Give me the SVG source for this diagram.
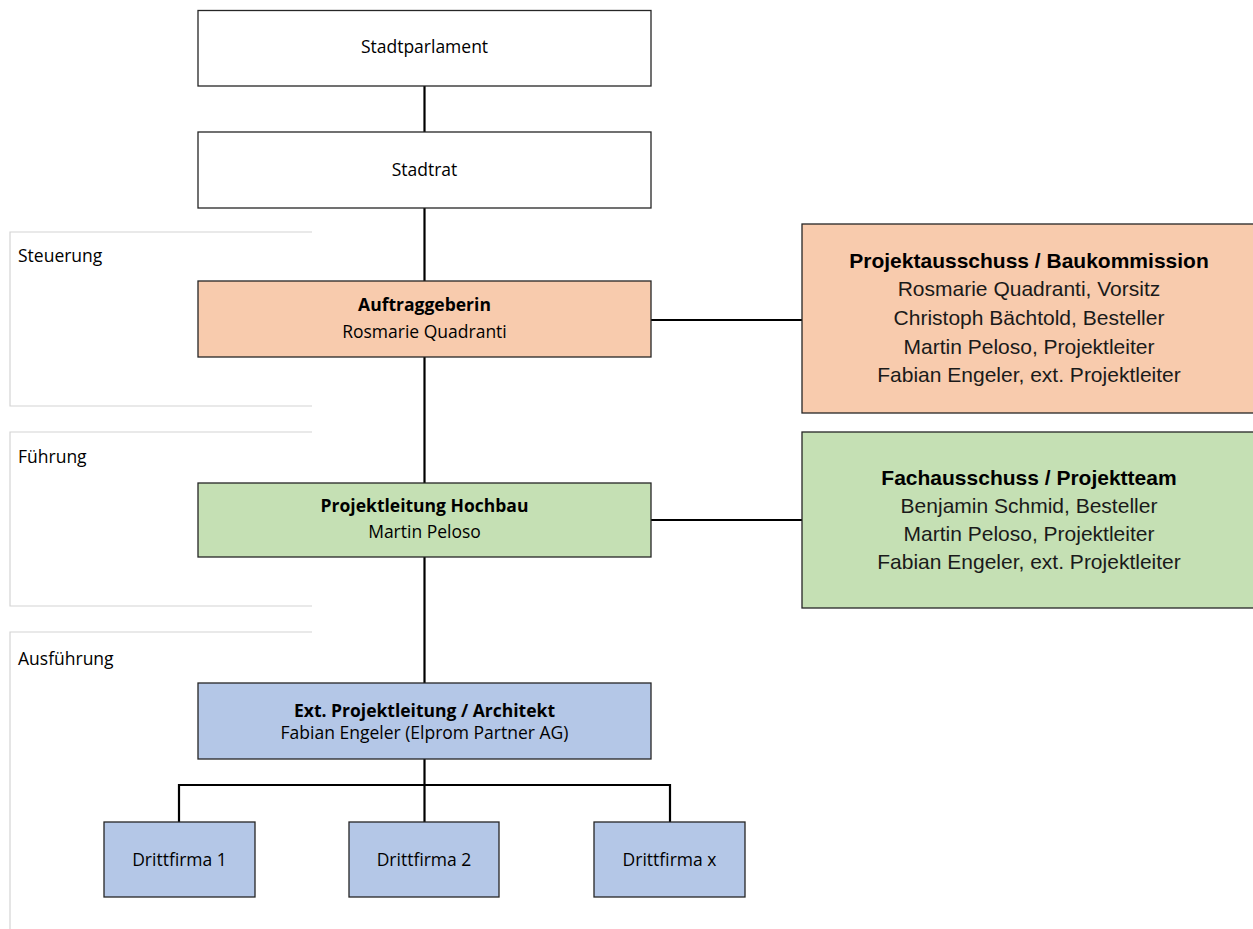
<svg xmlns="http://www.w3.org/2000/svg" width="1253" height="929" viewBox="0 0 1253 929">
<style>
.band{fill:none;stroke:#d4d4d4;stroke-width:1.2}
.box{stroke:#262626;stroke-width:1.3}
.w{fill:#ffffff}.o{fill:#f8cbad}.g{fill:#c5e0b4}.b{fill:#b4c7e7}
.c{font-family:"Open Sans","Noto Sans",sans-serif;font-size:17.5px;fill:#000;text-anchor:middle}
.cb{font-weight:bold}
.lbl{font-family:"Open Sans","Noto Sans",sans-serif;font-size:17.5px;fill:#000}
.h{font-family:"Liberation Sans",Arial,sans-serif;font-size:21px;fill:#1a1a1a;text-anchor:middle}
.hb{font-weight:bold;fill:#000}
.con{fill:none;stroke:#000;stroke-width:2.2}
</style>
<g id="bands">
<path class="band" d="M312,232 H10 V406 H312"/>
<path class="band" d="M312,432 H10 V606 H312"/>
<path class="band" d="M312,632 H10 V929"/>
<text class="lbl" x="18" y="262">Steuerung</text>
<text class="lbl" x="18" y="463">Führung</text>
<text class="lbl" x="18" y="665">Ausführung</text>
</g>
<g id="connectors">
<path class="con" d="M424.5,86 V132"/>
<path class="con" d="M424.5,208 V281"/>
<path class="con" d="M424.5,357 V483"/>
<path class="con" d="M424.5,557 V683"/>
<path class="con" d="M424.5,759 V822"/>
<path class="con" d="M179,822 V785 H670 V822"/>
<path class="con" d="M651,320 H802"/>
<path class="con" d="M651,520 H802"/>
</g>
<g id="stadtparlament"><rect class="box w" x="198" y="10.5" width="453" height="75.5"/><text class="c" x="424.5" y="53">Stadtparlament</text></g>
<g id="stadtrat"><rect class="box w" x="198" y="132" width="453" height="76"/><text class="c" x="424.5" y="176">Stadtrat</text></g>
<g id="auftraggeberin"><rect class="box o" x="198" y="281" width="453" height="76"/><text class="c cb" x="424.5" y="311">Auftraggeberin</text><text class="c" x="424.5" y="338">Rosmarie Quadranti</text></g>
<g id="projektleitung"><rect class="box g" x="198" y="483" width="453" height="74"/><text class="c cb" x="424.5" y="512">Projektleitung Hochbau</text><text class="c" x="424.5" y="538">Martin Peloso</text></g>
<g id="extprojektleitung"><rect class="box b" x="198" y="683" width="453" height="76"/><text class="c cb" x="424.5" y="717">Ext. Projektleitung / Architekt</text><text class="c" x="424.5" y="739">Fabian Engeler (Elprom Partner AG)</text></g>
<g id="drittfirma1"><rect class="box b" x="104" y="822" width="151" height="75"/><text class="c" x="179.5" y="866">Drittfirma 1</text></g>
<g id="drittfirma2"><rect class="box b" x="349" y="822" width="150" height="75"/><text class="c" x="424" y="866">Drittfirma 2</text></g>
<g id="drittfirmax"><rect class="box b" x="594" y="822" width="151" height="75"/><text class="c" x="669.5" y="866">Drittfirma x</text></g>
<g id="projektausschuss"><rect class="box o" x="802" y="224" width="455" height="189"/>
<text class="h hb" x="1029" y="268">Projektausschuss / Baukommission</text>
<text class="h" x="1029" y="296">Rosmarie Quadranti, Vorsitz</text>
<text class="h" x="1029" y="325">Christoph Bächtold, Besteller</text>
<text class="h" x="1029" y="354">Martin Peloso, Projektleiter</text>
<text class="h" x="1029" y="382">Fabian Engeler, ext. Projektleiter</text>
</g>
<g id="fachausschuss"><rect class="box g" x="802" y="432" width="455" height="176"/>
<text class="h hb" x="1029" y="485">Fachausschuss / Projektteam</text>
<text class="h" x="1029" y="513">Benjamin Schmid, Besteller</text>
<text class="h" x="1029" y="541">Martin Peloso, Projektleiter</text>
<text class="h" x="1029" y="569">Fabian Engeler, ext. Projektleiter</text>
</g>
</svg>
